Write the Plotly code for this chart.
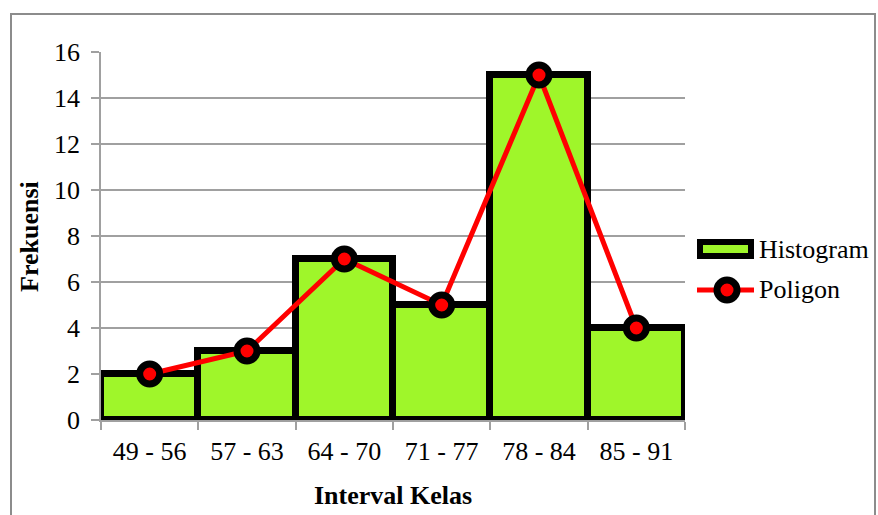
import plotly.graph_objects as go

# Frequency distribution of class intervals
kelas = ["49 - 56", "57 - 63", "64 - 70", "71 - 77", "78 - 84", "85 - 91"]
frekuensi = [2, 3, 7, 5, 15, 4]
y_ticks = [0, 2, 4, 6, 8, 10, 12, 14, 16]

W, H = 878, 515
L, R, T, B = 101, 193, 52, 95
PW, PH = W - L - R, H - T - B

FONT = "Liberation Serif"
GREEN = "#9FF62A"
GRID = "#A0A0A0"


def px(xpix):
    return (xpix - L) / PW


def py(ypix):
    return (H - B - ypix) / PH


fig = go.Figure()

fig.add_trace(go.Bar(
    x=kelas, y=frekuensi, name="Histogram", width=1.0,
    marker=dict(color=GREEN, line=dict(color="black", width=7)),
    cliponaxis=False, showlegend=False,
))

fig.add_trace(go.Scatter(
    x=kelas, y=frekuensi, name="Poligon", mode="lines+markers",
    line=dict(color="#FF0000", width=5),
    marker=dict(color="#FF0000", size=20, line=dict(color="black", width=7)),
    cliponaxis=False, showlegend=False,
))

shapes = [
    # outer chart border
    dict(type="rect", xref="paper", yref="paper",
         x0=px(11), x1=px(875), y0=py(560), y1=py(14),
         line=dict(color="#8C8C8C", width=2), fillcolor="rgba(0,0,0,0)", layer="below"),
    # legend: histogram swatch
    dict(type="rect", xref="paper", yref="paper",
         x0=px(700), x1=px(751), y0=py(256), y1=py(242),
         line=dict(color="black", width=6), fillcolor=GREEN),
    # legend: polygon line and marker
    dict(type="line", xref="paper", yref="paper",
         x0=px(697), x1=px(754), y0=py(290), y1=py(290),
         line=dict(color="#FF0000", width=5)),
    dict(type="circle", xref="paper", yref="paper",
         x0=px(717), x1=px(737), y0=py(300), y1=py(280),
         line=dict(color="black", width=7), fillcolor="#FF0000"),
]

annotations = [
    dict(text="Histogram", xref="paper", yref="paper", x=px(757), y=py(249),
         xanchor="left", yanchor="middle", showarrow=False,
         font=dict(family=FONT, size=26, color="black")),
    dict(text="Poligon", xref="paper", yref="paper", x=px(757), y=py(289),
         xanchor="left", yanchor="middle", showarrow=False,
         font=dict(family=FONT, size=26, color="black")),
    dict(text="<b>Interval Kelas</b>", xref="paper", yref="paper", x=px(393), y=py(495),
         xanchor="center", yanchor="middle", showarrow=False,
         font=dict(family=FONT, size=26, color="black")),
    dict(text="<b>Frekuensi</b>", xref="paper", yref="paper", x=px(29), y=py(237),
         xanchor="center", yanchor="middle", showarrow=False, textangle=-90,
         font=dict(family=FONT, size=26, color="black")),
]

fig.update_layout(
    width=W, height=H,
    margin=dict(l=L, r=R, t=T, b=B, pad=0),
    paper_bgcolor="white", plot_bgcolor="white",
    font=dict(family=FONT, size=26, color="black"),
    bargap=0,
    shapes=shapes, annotations=annotations,
    showlegend=False,
)

fig.update_xaxes(
    type="category", range=[-0.5, 5.5],
    showgrid=False, showline=True, linecolor=GRID, linewidth=1.5,
    ticks="outside", tickson="boundaries", ticklen=8, tickcolor=GRID, tickwidth=1.5,
    ticklabelstandoff=7,
    tickfont=dict(family=FONT, size=26, color="black"),
    fixedrange=True,
)

fig.update_yaxes(
    range=[0, 16], tickvals=y_ticks,
    showgrid=True, gridcolor=GRID, gridwidth=1.5,
    showline=True, linecolor=GRID, linewidth=1.5,
    ticks="outside", ticklen=8, tickcolor=GRID, tickwidth=1.5,
    ticklabelstandoff=6,
    tickfont=dict(family=FONT, size=26, color="black"),
    zeroline=False, fixedrange=True,
)

fig.write_html("out.html", config={"displayModeBar": False})
